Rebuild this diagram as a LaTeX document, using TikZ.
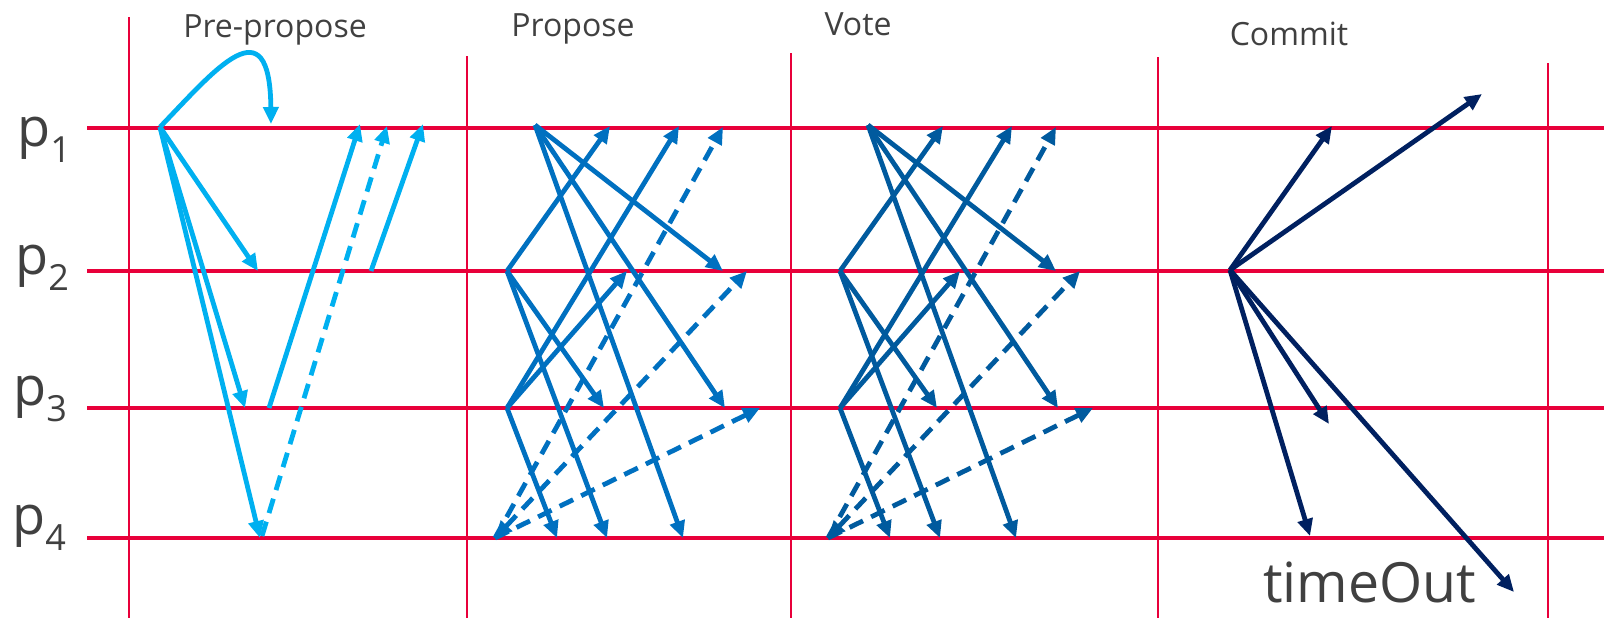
\documentclass[tikz,border=0pt]{standalone}
\usepackage{fontspec}
\setmainfont{Open Sans}
\usetikzlibrary{arrows.meta}
\definecolor{gridred}{RGB}{232,0,58}
\definecolor{preblue}{RGB}{0,176,240}
\definecolor{propblue}{RGB}{0,112,192}
\definecolor{voteblue}{RGB}{0,90,158}
\definecolor{commitblue}{RGB}{0,32,96}
\definecolor{txt}{RGB}{64,64,64}
\begin{document}
\begin{tikzpicture}[x=0.5pt,y=-0.5pt,
  hline/.style={gridred,line width=2.2pt},
  vline/.style={gridred,line width=1.1pt},
  msg/.style={line width=2.4pt,-{Triangle[length=8.5pt,width=7.5pt]}},
  dmsg/.style={msg,dash pattern=on 7.5pt off 4.5pt},
  dmsgboth/.style={line width=2.4pt,dash pattern=on 7.5pt off 4.5pt,{Triangle[length=8.5pt,width=7.5pt]}-{Triangle[length=8.5pt,width=7.5pt]}},
  phase/.style={text=txt,font=\fontsize{16}{19}\selectfont,inner sep=0pt,anchor=base},
  proc/.style={text=txt,font=\fontsize{27}{32}\selectfont,inner sep=0pt,anchor=base west}]

\useasboundingbox (0,0) rectangle (1604,618);

% process lines
\foreach \n/\y in {1/128,2/271,3/408,4/538}{
  \coordinate (L\n) at (87,\y);
  \coordinate (R\n) at (1604,\y);
  \draw[hline] (L\n) -- (R\n);
}
% phase borders
\foreach \n/\x/\t in {a/129/17,b/467/56,c/791/53,d/1158/57,e/1548/63}{
  \coordinate (\n top) at (\x,\t);
  \coordinate (\n bot) at (\x,618);
  \draw[vline] (\n top) -- (\n bot);
}

% labels
\newcommand{\psub}[1]{\raisebox{-8pt}{\fontsize{18}{18}\selectfont #1}}
\node[phase] (lpre) at (275,37) {Pre-propose};
\node[phase] (lprop) at (573,36) {Propose};
\node[phase] (lvote) at (858,35) {Vote};
\node[phase] (lcommit) at (1289,45) {Commit};
\node[proc] (p1) at (17,146) {p\psub{1}};
\node[proc] (p2) at (15,274) {p\psub{2}};
\node[proc] (p3) at (13,405) {p\psub{3}};
\node[proc] (p4) at (12,534) {p\psub{4}};
\node[text=txt,font=\fontsize{27.7}{32}\selectfont,inner sep=0pt,anchor=base west] (tout) at (1263,602) {timeOut};

% Pre-propose
\coordinate (ppS) at (160,127);
\coordinate (ppT1) at (271,124);
\coordinate (ppT2) at (258,271);
\coordinate (ppT3) at (245,408);
\coordinate (ppT4) at (260,538);
\coordinate (ppA) at (269,408);
\coordinate (ppAe) at (360,124);
\coordinate (ppB) at (262,536);
\coordinate (ppBe) at (387,126);
\coordinate (ppC) at (371,271);
\coordinate (ppCe) at (423,124);
\begin{scope}[color=preblue]
\draw[msg] (ppS) .. controls (215,70) and (270,2) .. (ppT1);
\draw[msg] (ppS) -- (ppT2);
\draw[msg] (ppS) -- (ppT3);
\draw[msg] (ppS) -- (ppT4);
\draw[msg] (ppA) -- (ppAe);
\draw[dmsg] (ppB) -- (ppBe);
\draw[msg] (ppC) -- (ppCe);
\end{scope}

% Propose and Vote
\foreach \ph/\dx/\col in {pr/0/propblue,vo/333/voteblue}{
  \begin{scope}[shift={(\dx,0)}]
    \coordinate (\ph s1) at (535,125);
    \coordinate (\ph s2) at (507,271);
    \coordinate (\ph s3) at (507,408);
    \coordinate (\ph s4) at (495,538);
    \coordinate (\ph a2) at (723,271);
    \coordinate (\ph a3) at (725,408);
    \coordinate (\ph a4) at (683,538);
    \coordinate (\ph b1) at (610,126);
    \coordinate (\ph b3) at (604,408);
    \coordinate (\ph b4) at (607,538);
    \coordinate (\ph c1) at (679,126);
    \coordinate (\ph c2) at (627,271);
    \coordinate (\ph c4) at (557,538);
    \coordinate (\ph d1) at (723,127);
    \coordinate (\ph d2) at (747,271);
    \coordinate (\ph d3) at (760,408);
  \end{scope}
  \begin{scope}[color=\col]
    \draw[msg] (\ph s1) -- (\ph a2);
    \draw[msg] (\ph s1) -- (\ph a3);
    \draw[msg] (\ph s1) -- (\ph a4);
    \draw[msg] (\ph s2) -- (\ph b1);
    \draw[msg] (\ph s2) -- (\ph b3);
    \draw[msg] (\ph s2) -- (\ph b4);
    \draw[msg] (\ph s3) -- (\ph c1);
    \draw[msg] (\ph s3) -- (\ph c2);
    \draw[msg] (\ph s3) -- (\ph c4);
    \draw[dmsg] (\ph s4) -- (\ph d1);
    \draw[dmsgboth] (\ph s4) -- (\ph d2);
    \draw[dmsg] (\ph s4) -- (\ph d3);
  \end{scope}
}

% Commit
\coordinate (cS) at (1230,270);
\coordinate (cT1) at (1332,126);
\coordinate (cT2) at (1482,94);
\coordinate (cT3) at (1329,424);
\coordinate (cT4) at (1310,536);
\coordinate (cT5) at (1514,592);
\begin{scope}[color=commitblue]
\foreach \t in {cT1,cT2,cT3,cT4,cT5}{
  \draw[msg] (cS) -- (\t);
}
\end{scope}
\end{tikzpicture}
\end{document}
